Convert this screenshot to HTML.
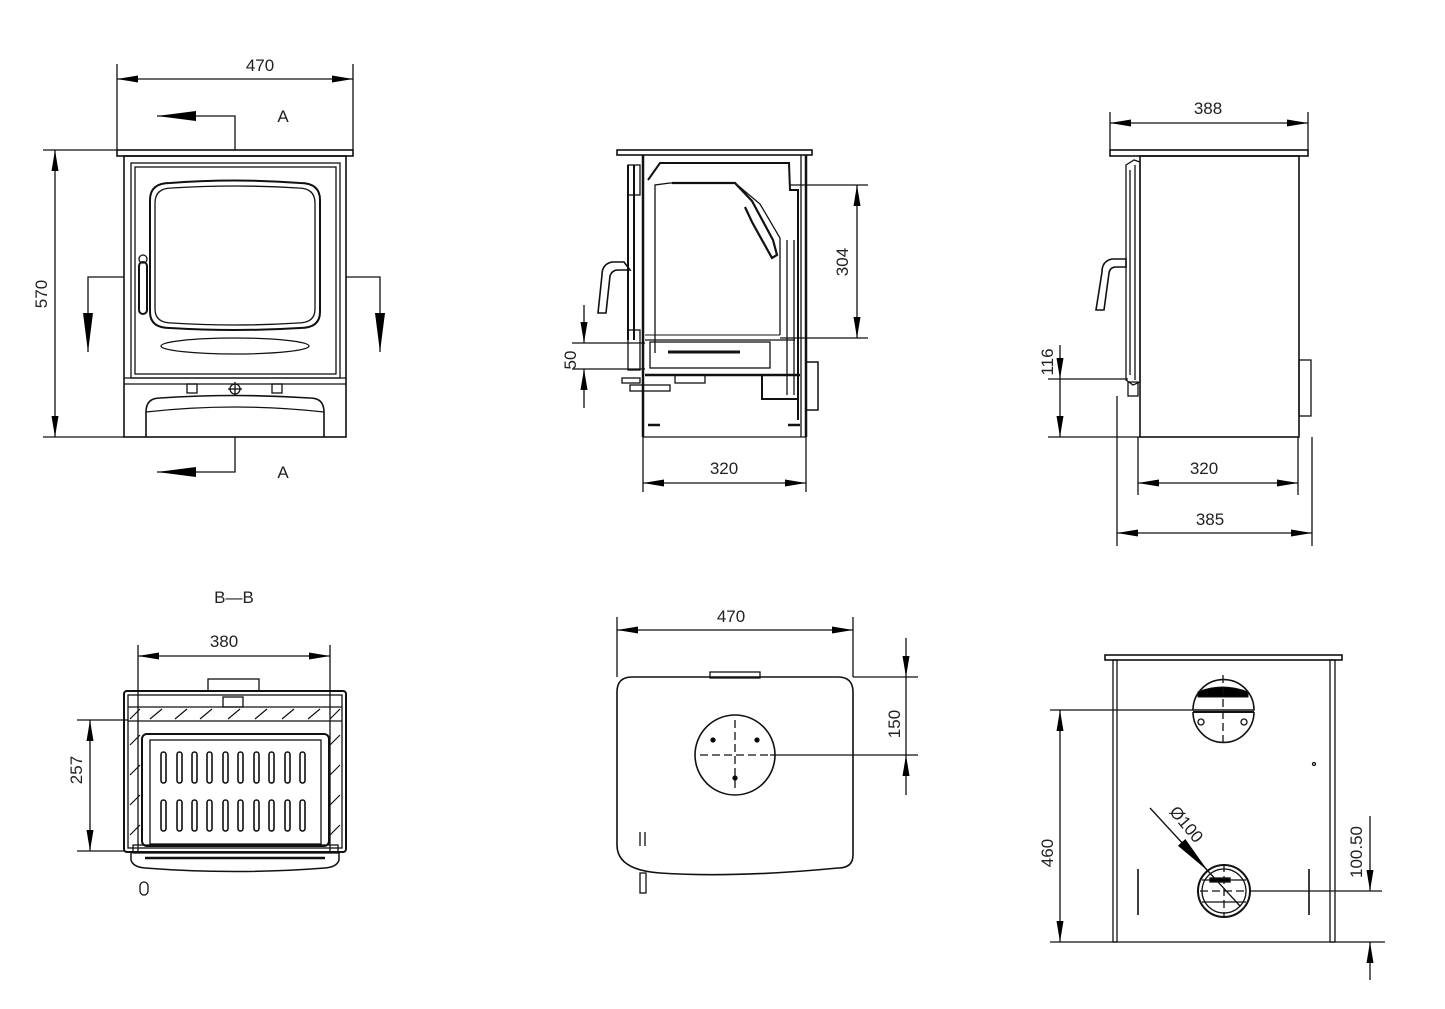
<!DOCTYPE html>
<html><head><meta charset="utf-8"><style>
html,body{margin:0;padding:0;background:#fff;}
svg{display:block}
text{font-family:"Liberation Sans",sans-serif;font-size:17px;fill:#222;}
</style></head><body>
<svg width="1445" height="1009" viewBox="0 0 1445 1009" xmlns="http://www.w3.org/2000/svg">
<defs>
<marker id="a" markerWidth="22" markerHeight="8" refX="21" refY="3.5" orient="auto-start-reverse" markerUnits="userSpaceOnUse">
<path d="M0,0 L21,3.5 L0,7 z" fill="#000"/></marker>
<marker id="b" markerWidth="40" markerHeight="12" refX="39" refY="5" orient="auto-start-reverse" markerUnits="userSpaceOnUse">
<path d="M0,0 L39,5 L0,10 z" fill="#000"/></marker>
</defs>
<g fill="none" stroke="#111" stroke-width="1.3">

<!-- ===== FRONT VIEW ===== -->
<line x1="117" y1="64" x2="117" y2="150"/><line x1="353" y1="64" x2="353" y2="150"/>
<line x1="117" y1="79" x2="353" y2="79" marker-start="url(#a)" marker-end="url(#a)"/>
<line x1="43" y1="150" x2="117" y2="150"/><line x1="43" y1="437" x2="124" y2="437"/>
<line x1="55" y1="150" x2="55" y2="437" marker-start="url(#a)" marker-end="url(#a)"/>
<polyline points="235,150 235,116 157,116" marker-end="url(#b)"/>
<polyline points="235,437 235,472 157,472" marker-end="url(#b)"/>
<polyline points="124,277 88,277 88,352" marker-end="url(#b)"/>
<polyline points="346,277 380,277 380,352" marker-end="url(#b)"/>
<rect x="117" y="150" width="236" height="6" stroke-width="1.6"/>
<rect x="124" y="156" width="222" height="281" stroke-width="1.6"/>
<rect x="131" y="163" width="209" height="215"/>
<rect x="135" y="167" width="201" height="207"/>
<path d="M150,200 Q150,183 170,183 Q235,178 300,183 Q320,183 320,200 L320,312 Q320,328 300,328 Q235,332 170,328 Q150,328 150,312 Z" stroke-width="2"/>
<path d="M155,203 Q155,188 172,188 Q235,184 298,188 Q315,188 315,203 L315,309 Q315,323 298,323 Q235,327 172,323 Q155,323 155,309 Z"/>
<ellipse cx="235" cy="346" rx="74" ry="8"/>
<rect x="139" y="262" width="8" height="52" rx="4" stroke-width="2"/>
<circle cx="143" cy="259" r="4"/>
<line x1="124" y1="378" x2="346" y2="378"/><line x1="124" y1="384" x2="346" y2="384"/>
<rect x="187" y="384" width="10" height="9"/><rect x="272" y="384" width="10" height="9"/>
<circle cx="235" cy="389" r="5"/><line x1="228" y1="389" x2="242" y2="389"/><line x1="235" y1="382" x2="235" y2="396"/>
<path d="M146,437 L146,412 Q146,398 160,398 Q235,393 310,398 Q324,398 324,412 L324,437" stroke-width="1.6"/>
<path d="M146,412 Q235,402 324,412"/>
<text x="260" y="71" text-anchor="middle" stroke="none">470</text>
<text x="283" y="122" text-anchor="middle" stroke="none">A</text>
<text x="283" y="478" text-anchor="middle" stroke="none">A</text>
<text x="0" y="0" transform="translate(47,294) rotate(-90)" text-anchor="middle" stroke="none">570</text>

<!-- ===== SECTION VIEW ===== -->
<rect x="617" y="150" width="195" height="5" stroke-width="1.6"/>
<line x1="643" y1="155" x2="643" y2="437" stroke-width="2.5"/>
<line x1="806" y1="155" x2="806" y2="437" stroke-width="2.5"/>
<line x1="801" y1="155" x2="801" y2="437"/>
<polyline points="648,180 660,163 789,163 790,190 798,190 798,420" stroke-width="2"/>
<line x1="787" y1="240" x2="787" y2="395" stroke-width="1.3"/>
<line x1="794" y1="240" x2="794" y2="395" stroke-width="1.3"/>
<polyline points="655,353 655,185 670,183 735,183 760,204 780,238 780,335" stroke-width="1.3"/>
<path d="M672,183 L735,183 L752,201 L773,240 L777,255 L772,258 L752,222 L745,207" stroke-width="2.2"/>
<polyline points="645,335 780,335" stroke-width="1"/>
<polyline points="645,340 795,340" stroke-width="1.3"/>
<rect x="650" y="342" width="120" height="26" />
<line x1="668" y1="352" x2="740" y2="352" stroke-width="3"/>
<polyline points="645,375 800,375" stroke-width="2.5"/>
<rect x="762" y="375" width="36" height="24" stroke-width="2"/>
<rect x="806" y="362" width="12" height="48" stroke-width="1.5"/>
<rect x="675" y="375" width="30" height="8"/>
<line x1="628" y1="165" x2="628" y2="340" stroke-width="2"/>
<line x1="634" y1="165" x2="634" y2="340" stroke-width="2"/>
<rect x="628" y="165" width="12" height="30"/>
<path d="M624,262 L612,262 Q602,264 602,275 L598,313 L606,313 L610,276 Q612,270 618,270 L630,270 Z" stroke-width="1.6"/>
<rect x="628" y="330" width="12" height="40"/>
<rect x="622" y="378" width="18" height="5"/>
<rect x="630" y="385" width="40" height="6"/>
<line x1="648" y1="425" x2="660" y2="425" stroke-width="2.5"/>
<line x1="788" y1="425" x2="800" y2="425" stroke-width="2.5"/>
<line x1="643" y1="437" x2="806" y2="437"/>
<line x1="643" y1="437" x2="643" y2="492"/><line x1="806" y1="437" x2="806" y2="492"/>
<line x1="643" y1="483" x2="806" y2="483" marker-start="url(#a)" marker-end="url(#a)"/>
<line x1="790" y1="185" x2="868" y2="185"/><line x1="780" y1="338" x2="868" y2="338"/>
<line x1="857" y1="185" x2="857" y2="338" marker-start="url(#a)" marker-end="url(#a)"/>
<line x1="572" y1="343" x2="645" y2="343"/><line x1="572" y1="369" x2="645" y2="369"/>
<line x1="584" y1="305" x2="584" y2="343" marker-end="url(#a)"/>
<line x1="584" y1="408" x2="584" y2="369" marker-end="url(#a)"/>
<text x="724" y="474" text-anchor="middle" stroke="none">320</text>
<text x="0" y="0" transform="translate(848,262) rotate(-90)" text-anchor="middle" stroke="none">304</text>
<text x="0" y="0" transform="translate(576,360) rotate(-90)" text-anchor="middle" stroke="none">50</text>

<!-- ===== SIDE VIEW ===== -->
<line x1="1110" y1="112" x2="1110" y2="150"/><line x1="1308" y1="112" x2="1308" y2="150"/>
<line x1="1110" y1="123" x2="1308" y2="123" marker-start="url(#a)" marker-end="url(#a)"/>
<rect x="1110" y="150" width="198" height="6" stroke-width="1.6"/>
<rect x="1140" y="156" width="159" height="281" stroke-width="1.6"/>
<path d="M1126,165 L1134,160 L1140,162 L1140,382 L1133,385 L1126,380 Z"/>
<line x1="1130" y1="170" x2="1130" y2="375"/><line x1="1135" y1="165" x2="1135" y2="380"/>
<rect x="1128" y="382" width="10" height="14"/>
<path d="M1126,259 L1112,259 Q1102,261 1102,272 L1096,310 L1104,310 L1109,273 Q1110,267 1116,267 L1126,267 Z" stroke-width="1.6"/>
<rect x="1299" y="360" width="12" height="56" stroke-width="1.3"/>
<line x1="1048" y1="379" x2="1128" y2="379"/><line x1="1048" y1="437" x2="1140" y2="437"/>
<line x1="1060" y1="345" x2="1060" y2="379" marker-end="url(#a)"/>
<line x1="1060" y1="379" x2="1060" y2="437" marker-end="url(#a)"/>
<line x1="1138" y1="437" x2="1138" y2="495"/><line x1="1298" y1="437" x2="1298" y2="495"/>
<line x1="1138" y1="483" x2="1298" y2="483" marker-start="url(#a)" marker-end="url(#a)"/>
<line x1="1117" y1="396" x2="1117" y2="546"/><line x1="1312" y1="437" x2="1312" y2="546"/>
<line x1="1117" y1="533" x2="1312" y2="533" marker-start="url(#a)" marker-end="url(#a)"/>
<text x="1208" y="114" text-anchor="middle" stroke="none">388</text>
<text x="1204" y="474" text-anchor="middle" stroke="none">320</text>
<text x="1210" y="525" text-anchor="middle" stroke="none">385</text>
<text x="0" y="0" transform="translate(1053,362) rotate(-90)" text-anchor="middle" stroke="none">116</text>

<!-- ===== B-B VIEW ===== -->
<text x="234" y="603" text-anchor="middle" stroke="none">B—B</text>
<line x1="138" y1="645" x2="138" y2="852"/><line x1="330" y1="645" x2="330" y2="852"/>
<line x1="138" y1="656" x2="330" y2="656" marker-start="url(#a)" marker-end="url(#a)"/>
<text x="224" y="647" text-anchor="middle" stroke="none">380</text>
<rect x="208" y="679" width="51" height="12"/>
<rect x="124" y="691" width="222" height="161" rx="3" stroke-width="2"/>
<rect x="128" y="695" width="214" height="153"/>
<line x1="128" y1="707" x2="342" y2="707"/><line x1="128" y1="721" x2="342" y2="721"/>
<rect x="223" y="697" width="20" height="10"/>
<rect x="142" y="734" width="187" height="112" rx="5" stroke-width="2"/>
<rect x="150" y="740" width="171" height="104"/>
<g stroke-width="1.2">
<path d="M130,719 L140,709 M150,719 L162,709 M175,719 L187,709 M200,719 L212,709 M228,719 L240,709 M255,719 L267,709 M282,719 L294,709 M308,719 L320,709 M330,719 L340,709"/>
<path d="M130,745 L140,735 M130,775 L140,765 M130,805 L140,795 M130,835 L140,825 M330,745 L340,735 M330,775 L340,765 M330,805 L340,795 M330,835 L340,825"/>
</g>
<g stroke-width="1.6">
<rect x="161" y="752" width="5" height="31" rx="2.5"/><rect x="177" y="752" width="5" height="31" rx="2.5"/><rect x="192" y="752" width="5" height="31" rx="2.5"/><rect x="207" y="752" width="5" height="31" rx="2.5"/><rect x="223" y="752" width="5" height="31" rx="2.5"/><rect x="238" y="752" width="5" height="31" rx="2.5"/><rect x="254" y="752" width="5" height="31" rx="2.5"/><rect x="269" y="752" width="5" height="31" rx="2.5"/><rect x="285" y="752" width="5" height="31" rx="2.5"/><rect x="300" y="752" width="5" height="31" rx="2.5"/>
<rect x="161" y="800" width="5" height="31" rx="2.5"/><rect x="177" y="800" width="5" height="31" rx="2.5"/><rect x="192" y="800" width="5" height="31" rx="2.5"/><rect x="207" y="800" width="5" height="31" rx="2.5"/><rect x="223" y="800" width="5" height="31" rx="2.5"/><rect x="238" y="800" width="5" height="31" rx="2.5"/><rect x="254" y="800" width="5" height="31" rx="2.5"/><rect x="269" y="800" width="5" height="31" rx="2.5"/><rect x="285" y="800" width="5" height="31" rx="2.5"/><rect x="300" y="800" width="5" height="31" rx="2.5"/>
</g>
<rect x="133" y="845" width="205" height="8"/>
<path d="M131,853 L131,860 Q133,867 145,868 Q235,875 325,868 Q337,867 339,860 L339,853" stroke-width="1.5"/>
<line x1="145" y1="858" x2="325" y2="858" stroke-width="2.5"/>
<rect x="140" y="882" width="8" height="13" rx="4"/>
<line x1="77" y1="720" x2="128" y2="720"/><line x1="77" y1="851" x2="124" y2="851"/>
<line x1="90" y1="720" x2="90" y2="851" marker-start="url(#a)" marker-end="url(#a)"/>
<text x="0" y="0" transform="translate(82,770) rotate(-90)" text-anchor="middle" stroke="none">257</text>

<!-- ===== TOP VIEW ===== -->
<line x1="617" y1="617" x2="617" y2="677"/><line x1="853" y1="617" x2="853" y2="677"/>
<line x1="617" y1="630" x2="853" y2="630" marker-start="url(#a)" marker-end="url(#a)"/>
<text x="731" y="622" text-anchor="middle" stroke="none">470</text>
<rect x="710" y="672" width="50" height="6"/>
<path d="M632,677 L838,677 Q853,677 853,692 L853,855 Q853,868 838,868 Q735,878 660,873 Q617,870 617,845 L617,692 Q617,677 632,677 Z" stroke-width="1.6"/>
<circle cx="735" cy="755" r="40" stroke-width="1.6"/>
<line x1="700" y1="755" x2="770" y2="755" stroke-dasharray="8,4"/>
<line x1="735" y1="720" x2="735" y2="790" stroke-dasharray="8,4"/>
<circle cx="713" cy="740" r="2" fill="#000"/><circle cx="757" cy="740" r="2" fill="#000"/><circle cx="735" cy="778" r="2" fill="#000"/>
<line x1="640" y1="832" x2="640" y2="846"/><line x1="645" y1="832" x2="645" y2="846"/>
<rect x="640" y="873" width="6" height="20"/>
<line x1="770" y1="755" x2="918" y2="755"/><line x1="853" y1="677" x2="918" y2="677"/>
<line x1="906" y1="638" x2="906" y2="677" marker-end="url(#a)"/>
<line x1="906" y1="677" x2="906" y2="755"/>
<line x1="906" y1="795" x2="906" y2="755" marker-end="url(#a)"/>
<text x="0" y="0" transform="translate(900,724) rotate(-90)" text-anchor="middle" stroke="none">150</text>

<!-- ===== REAR VIEW ===== -->
<rect x="1105" y="655" width="237" height="5" stroke-width="1.6"/>
<rect x="1113" y="660" width="4" height="282"/>
<rect x="1330" y="660" width="5" height="282"/>
<line x1="1050" y1="942" x2="1385" y2="942"/>
<path d="M1193,710 A30,30 0 0 1 1254,710 Z" stroke-width="1.6"/>
<path d="M1193,712 A30,30 0 0 0 1254,712" stroke-width="1.6"/>
<path d="M1198,692 Q1222,682 1248,692 L1248,697 L1198,697 Z" fill="#000" stroke-width="1"/>
<line x1="1193" y1="712" x2="1254" y2="712" stroke-width="2"/>
<circle cx="1201" cy="722" r="3"/><circle cx="1244" cy="722" r="3"/>
<line x1="1223" y1="675" x2="1223" y2="742" stroke-dasharray="8,4"/>
<line x1="1050" y1="710" x2="1193" y2="710"/>
<circle cx="1224" cy="891" r="26" stroke-width="2"/>
<circle cx="1224" cy="891" r="22"/>
<line x1="1202" y1="880" x2="1246" y2="880"/><line x1="1200" y1="891" x2="1248" y2="891" stroke-dasharray="8,4"/><line x1="1202" y1="902" x2="1246" y2="902"/>
<rect x="1210" y="878" width="20" height="4" fill="#000"/>
<line x1="1224" y1="864" x2="1224" y2="918" stroke-dasharray="8,4"/>
<line x1="1250" y1="891" x2="1382" y2="891"/>
<line x1="1150" y1="808" x2="1208" y2="871" marker-end="url(#b)"/>
<line x1="1208" y1="871" x2="1240" y2="906"/>
<line x1="1138" y1="869" x2="1138" y2="915" stroke-width="1.6"/>
<line x1="1309" y1="869" x2="1309" y2="915" stroke-width="1.6"/>
<circle cx="1314" cy="764" r="1.5"/>
<line x1="1060" y1="710" x2="1060" y2="942" marker-start="url(#a)" marker-end="url(#a)"/>
<line x1="1370" y1="816" x2="1370" y2="891" marker-end="url(#a)"/>
<line x1="1370" y1="980" x2="1370" y2="942" marker-end="url(#a)"/>
<text x="0" y="0" transform="translate(1053,853) rotate(-90)" text-anchor="middle" stroke="none">460</text>
<text x="0" y="0" transform="translate(1362,852) rotate(-90)" text-anchor="middle" stroke="none">100.50</text>
<text x="0" y="0" transform="translate(1182,828) rotate(50)" text-anchor="middle" stroke="none">Ø100</text>
</g>
</svg>
</body></html>
